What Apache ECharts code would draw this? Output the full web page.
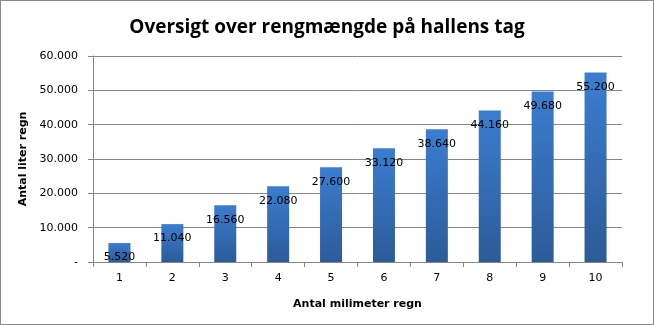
<!DOCTYPE html>
<html>
<head>
<meta charset="utf-8">
<script src="https://cdn.jsdelivr.net/npm/echarts@6/dist/echarts.min.js"></script>
<style>
  html, body { margin: 0; padding: 0; background: #fff; }
  #chart { width: 652px; height: 323px; border: 1px solid #8a8a8a; }
</style>
</head>
<body>
<div id="chart"></div>
<script>
// Rain collected on the hall roof, by millimetres of rainfall
const categories = ['1', '2', '3', '4', '5', '6', '7', '8', '9', '10'];
const litres = [5520, 11040, 16560, 22080, 27600, 33120, 38640, 44160, 49680, 55200];

// Danish thousands separator: 55200 -> "55.200"
function fmt(v) {
  return String(Math.round(v)).replace(/\B(?=(\d{3})+(?!\d))/g, '.');
}

const chart = echarts.init(document.getElementById('chart'));
chart.setOption({
  animation: false,
  title: {
    text: 'Oversigt over rengmængde på hallens tag',
    left: 'center',
    top: 12,
    textStyle: { fontFamily: 'Open Sans', fontWeight: 'bold', fontSize: 19, color: '#000' }
  },
  grid: { left: 92, right: 31, top: 55, bottom: 62 },
  xAxis: {
    type: 'category',
    data: categories,
    name: 'Antal milimeter regn',
    nameLocation: 'middle',
    nameGap: 37,
    nameTextStyle: { fontFamily: 'DejaVu Sans', fontWeight: 'bold', fontSize: 11, color: '#000' },
    axisLine: { lineStyle: { color: '#868686' } },
    axisTick: { show: true, length: 5, lineStyle: { color: '#868686' } },
    axisLabel: { margin: 11, fontFamily: 'DejaVu Sans', fontSize: 11, color: '#000' }
  },
  yAxis: {
    type: 'value',
    min: 0,
    max: 60000,
    interval: 10000,
    name: 'Antal liter regn',
    nameLocation: 'middle',
    nameGap: 61,
    nameRotate: 90,
    nameTextStyle: { fontFamily: 'DejaVu Sans', fontWeight: 'bold', fontSize: 11, color: '#000' },
    axisLine: { show: true, lineStyle: { color: '#868686' } },
    axisTick: { show: true, length: 5, lineStyle: { color: '#868686' } },
    splitLine: { lineStyle: { color: '#868686' } },
    axisLabel: {
      margin: 15,
      fontFamily: 'DejaVu Sans',
      fontSize: 11,
      color: '#000',
      formatter: v => (v === 0 ? '-' : fmt(v))
    }
  },
  series: [{
    type: 'bar',
    data: litres,
    barWidth: 22,
    itemStyle: {
      color: new echarts.graphic.LinearGradient(0, 0, 0, 1, [
        { offset: 0, color: '#3b7dd0' },
        { offset: 1, color: '#2c5b98' }
      ])
    },
    label: {
      show: true,
      position: 'insideTop',
      distance: 9,
      fontFamily: 'DejaVu Sans',
      fontSize: 11,
      color: '#000',
      formatter: p => fmt(p.value)
    }
  }]
});
</script>
</body>
</html>
